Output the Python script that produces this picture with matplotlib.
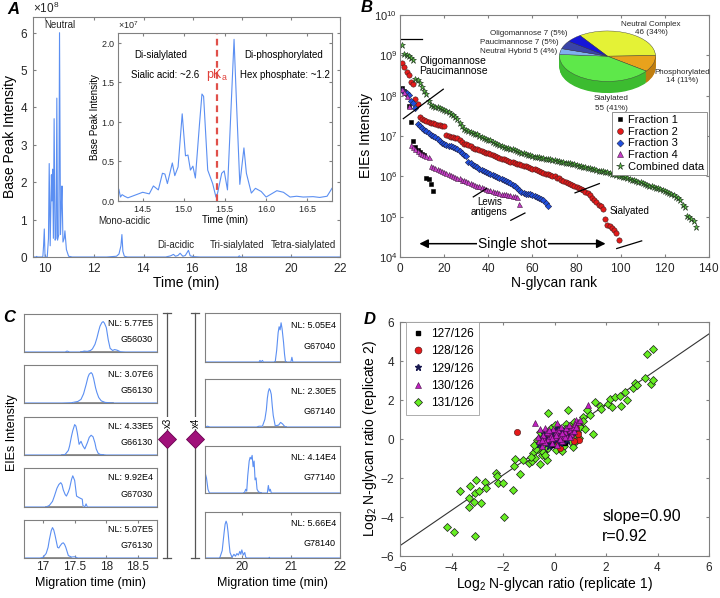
import numpy as np
import matplotlib
matplotlib.use("Agg")
import matplotlib.pyplot as plt

plt.rcParams['font.family'] = ['Liberation Sans', 'DejaVu Sans']
plt.rcParams['mathtext.default'] = 'regular'
plt.rcParams['axes.formatter.use_mathtext'] = True
plt.rcParams['axes.edgecolor'] = '#808080'
plt.rcParams['axes.linewidth'] = 0.8
plt.rcParams['xtick.color'] = '#808080'
plt.rcParams['ytick.color'] = '#808080'
plt.rcParams['xtick.labelcolor'] = '#262626'
plt.rcParams['ytick.labelcolor'] = '#262626'
plt.rcParams['xtick.direction'] = 'in'
plt.rcParams['ytick.direction'] = 'in'
plt.rcParams['xtick.major.size'] = 2.5
plt.rcParams['ytick.major.size'] = 2.5

W, H = 720, 598
TRACE = '#5b8ff2'

# ---------------- panel A: base peak electropherogram (x1e8)
a_time = [9.5, 9.62, 9.65, 9.68, 9.9, 9.93, 9.96, 9.99, 10.08, 10.13, 10.16, 10.2,
          10.25, 10.27, 10.3, 10.33, 10.36, 10.4, 10.44, 10.47, 10.5, 10.55, 10.58,
          10.62, 10.66, 10.68, 10.72, 10.77, 10.8, 10.86, 10.95, 11.1, 12.5, 12.9,
          13.0, 13.08, 13.12, 13.16, 13.22, 13.35, 14.9, 15.1, 15.22, 15.3, 15.4,
          15.49, 15.6, 15.7, 15.83, 15.9, 16.05, 16.3, 17.85, 17.9, 17.95, 22.0]
a_int = [0.0, 0.0, 0.015, 0.0, 0.0, 0.3, 0.75, 0.0, 0.0, 0.5, 2.5, 0.3,
         2.2, 1.5, 2.35, 0.5, 3.7, 0.45, 0.5, 4.25, 0.45, 0.6, 6.0,
         0.6, 1.5, 1.9, 0.4, 0.5, 0.7, 0.2, 0.02, 0.0, 0.0, 0.02,
         0.08, 0.3, 0.6, 0.15, 0.02, 0.0, 0.0, 0.03, 0.07, 0.02, 0.04,
         0.1, 0.02, 0.04, 0.18, 0.03, 0.01, 0.0, 0.0, 0.03, 0.0, 0.0]
a_labels = ['Neutral', 'Mono-acidic', 'Di-acidic', 'Tri-sialylated', 'Tetra-sialylated']
a_label_x = [10.6, 13.2, 15.3, 17.8, 20.5]
a_label_y = [6.2, 0.95, 0.32, 0.32, 0.32]

# inset (x1e7)
in_time = [14.19, 14.21, 14.23, 14.25, 14.28, 14.32, 14.5, 14.58, 14.63, 14.69, 14.74,
           14.77, 14.8, 14.86, 14.89, 14.93, 14.98, 15.02, 15.05, 15.08, 15.11, 15.14,
           15.19, 15.22, 15.24, 15.29, 15.35, 15.39, 15.41, 15.46, 15.49, 15.53, 15.61,
           15.64, 15.68, 15.73, 15.76, 15.82, 15.87, 15.94, 16.0, 16.13, 16.21, 16.29,
           16.37, 16.45, 16.57, 16.65, 16.74, 16.8]
in_int = [0.08, 0.15, 0.05, 0.08, 0.06, 0.04, 0.11, 0.09, 0.19, 0.14, 0.35,
          0.34, 0.22, 0.48, 0.32, 0.43, 1.1, 0.57, 0.58, 0.39, 0.44, 0.29,
          0.97, 1.35, 1.32, 0.39, 0.22, 0.05, 0.1, 0.35, 0.38, 0.14, 2.04,
          1.23, 0.21, 0.67, 0.35, 0.1, 0.16, 0.12, 0.05, 0.13, 0.11, 0.05,
          0.06, 0.05, 0.055, 0.045, 0.06, 0.16]
pka_time = 15.4

# ---------------- panel B: rank plot (log10 EIE intensity, one value per rank)
f1_log = [8.18, 8.12, 8.05, 7.75, 7.35, 6.88, 6.72, 6.65, 6.60, 6.56, 6.52, 5.97, 5.93, 5.82, 5.64]
f2_log = [8.80, 8.72, 8.59, 8.51, 8.34, 8.30, 7.92, 7.80,
          7.46, 7.42, 7.39, 7.37, 7.35, 7.33, 7.31, 7.29, 7.28, 7.27, 7.25, 7.24,
          7.02, 7.00, 6.98, 6.97, 6.96, 6.94, 6.91, 6.86, 6.81, 6.79,
          6.77, 6.74, 6.71, 6.69, 6.67, 6.65, 6.63, 6.61, 6.59, 6.57,
          6.55, 6.52, 6.50, 6.48, 6.46, 6.44, 6.42, 6.40, 6.38, 6.36,
          6.35, 6.33, 6.31, 6.30, 6.28, 6.26, 6.25, 6.23, 6.21, 6.19,
          6.17, 6.15, 6.13, 6.11, 6.09, 6.07, 6.05, 6.03, 6.02, 6.00,
          5.97, 5.95, 5.92, 5.89, 5.87, 5.84, 5.81, 5.78, 5.76, 5.73,
          5.71, 5.68, 5.66, 5.62, 5.58, 5.53, 5.46, 5.41, 5.36, 5.30,
          5.26, 5.20, 4.93, 4.80, 4.76, 4.73, 4.66, 4.60, 4.43]
f3_log = [8.14, 8.10, 8.07, 8.01, 7.87, 7.82, 7.70,
          7.30, 7.25, 7.19, 7.16, 7.12, 7.07, 7.03, 7.00, 6.98, 6.92,
          6.87, 6.82, 6.80, 6.78, 6.76, 6.74, 6.72, 6.70, 6.68, 6.63, 6.58, 6.54, 6.50,
          6.36, 6.32, 6.28, 6.25, 6.22, 6.19, 6.16, 6.13, 6.10, 6.08,
          6.05, 6.03, 6.01, 5.99, 5.96, 5.93, 5.91, 5.88, 5.86, 5.83,
          5.79, 5.75, 5.70, 5.66, 5.62, 5.58, 5.57, 5.56, 5.55, 5.53,
          5.51, 5.49, 5.46, 5.43, 5.41, 5.35, 5.27]
f4_log = [8.16, 8.10, 8.00, 7.74,
          6.78, 6.72, 6.67, 6.62, 6.58, 6.55, 6.52, 6.50, 6.48,
          6.25, 6.22, 6.20, 6.18, 6.16, 6.13, 6.11, 6.09, 6.06, 6.03,
          6.01, 5.99, 5.97, 5.95, 5.92, 5.90, 5.88, 5.86, 5.84, 5.82,
          5.79, 5.77, 5.75, 5.73, 5.71, 5.69, 5.67, 5.65, 5.63, 5.61,
          5.60, 5.58, 5.57, 5.56, 5.55, 5.54, 5.53, 5.52, 5.51, 5.50, 5.31]
comb_log = [9.26, 9.04, 9.01, 8.98, 8.93, 8.88,
            8.42, 8.38, 8.32, 8.22, 8.12, 8.05, 7.87,
            7.77, 7.75, 7.73, 7.71, 7.69, 7.67, 7.65,
            7.63, 7.60, 7.55, 7.52, 7.48, 7.42, 7.32,
            7.25, 7.18, 7.14, 7.12, 7.10, 7.08, 7.06, 7.04, 7.01, 6.98,
            6.96, 6.93, 6.91, 6.89, 6.86, 6.82, 6.80, 6.78, 6.76, 6.73,
            6.71, 6.70, 6.68, 6.67, 6.65, 6.63, 6.61, 6.59, 6.57, 6.55,
            6.53, 6.52, 6.50, 6.49, 6.48, 6.47, 6.46, 6.45, 6.44, 6.43,
            6.42, 6.41, 6.40, 6.38, 6.37, 6.36, 6.35, 6.34, 6.33, 6.32,
            6.31, 6.30, 6.28, 6.26, 6.25, 6.23, 6.22, 6.21, 6.20, 6.18,
            6.17, 6.16, 6.14, 6.13, 6.12, 6.11, 6.10, 6.08, 6.06, 6.05,
            6.03, 6.02, 6.00, 5.99, 5.98, 5.96, 5.94, 5.92, 5.90, 5.88,
            5.87, 5.85, 5.83, 5.81, 5.79, 5.77, 5.75, 5.73, 5.71, 5.70,
            5.68, 5.66, 5.63, 5.61, 5.58, 5.56, 5.53, 5.50, 5.46, 5.41,
            5.28, 5.24, 5.02, 4.98, 4.93, 4.89, 4.74]

pie_names = ['Neutral Complex', 'Phosphorylated', 'Sialylated', 'Neutral Hybrid',
             'Paucimannose', 'Oligomannose']
pie_counts = [46, 14, 55, 5, 7, 7]
pie_colors = ['#e4f236', '#e8a21c', '#5ee84a', '#7fb0ee', '#3a44a8', '#1616d8']
pie_side = ['#b8c420', '#c07e10', '#3cbc30', '#5a88c8', '#28307c', '#0e0ea0']

# ---------------- panel C: extracted electropherograms (normalised)
cl_names = ['G56030', 'G56130', 'G66130', 'G67030', 'G76130']
cl_nl = ['5.77E5', '3.07E6', '4.33E5', '9.92E4', '5.07E5']
cl_t = [[16.7, 17.35, 17.38, 17.42, 17.6, 17.65, 17.7, 17.75, 17.78, 17.82, 17.85, 17.88, 17.9,
         17.93, 17.95, 17.97, 18.0, 18.03, 18.06, 18.1, 18.13, 18.17, 18.22, 18.3, 18.8],
        [16.7, 17.3, 17.45, 17.55, 17.6, 17.64, 17.68, 17.71, 17.73, 17.76, 17.78, 17.8, 17.83,
         17.85, 17.88, 17.92, 17.98, 18.1, 18.8],
        [16.7, 17.3, 17.35, 17.4, 17.42, 17.45, 17.47, 17.5, 17.52, 17.54, 17.57, 17.6, 17.63,
         17.66, 17.7, 17.73, 17.76, 17.79, 17.82, 17.84, 17.87, 17.9, 18.0, 18.8],
        [16.7, 17.05, 17.1, 17.15, 17.18, 17.22, 17.25, 17.28, 17.3, 17.32, 17.35, 17.37, 17.4,
         17.42, 17.45, 17.47, 17.5, 17.53, 17.57, 17.62, 17.63, 17.66, 17.68, 17.7, 18.8],
        [16.7, 16.95, 17.0, 17.05, 17.08, 17.1, 17.13, 17.15, 17.17, 17.19, 17.23, 17.25, 17.27,
         17.3, 17.32, 17.34, 17.36, 17.4, 17.45, 17.5, 17.55, 18.8]]
cl_v = [[0, 0, 0.03, 0, 0, 0.03, 0.02, 0.05, 0.1, 0.25, 0.45, 0.7, 0.85,
         0.97, 1.0, 0.95, 0.8, 0.4, 0.12, 0.05, 0.08, 0.06, 0.01, 0, 0],
        [0, 0, 0.01, 0.05, 0.12, 0.3, 0.6, 0.85, 0.95, 1.0, 0.95, 0.8, 0.5,
         0.35, 0.18, 0.07, 0.02, 0, 0],
        [0, 0, 0.02, 0.15, 0.3, 0.62, 0.8, 1.0, 0.95, 0.75, 0.35, 0.45, 0.3,
         0.2, 0.4, 0.58, 0.65, 0.6, 0.4, 0.2, 0.06, 0.02, 0, 0],
        [0, 0, 0.05, 0.18, 0.35, 0.6, 0.72, 0.78, 0.72, 0.55, 0.4, 0.35, 0.48,
         0.6, 0.88, 1.0, 0.85, 0.35, 0.3, 0.25, 0.05, 0, 0.1, 0, 0],
        [0, 0, 0.02, 0.15, 0.35, 0.6, 0.9, 1.0, 0.92, 0.75, 0.35, 0.33, 0.4,
         0.48, 0.5, 0.45, 0.35, 0.08, 0.03, 0.04, 0, 0]]
cl_base = [(17.6, 18.2), (17.5, 18.1), (17.3, 17.95), (17.05, 17.62), (17.0, 17.45)]

cr_names = ['G67040', 'G67140', 'G77140', 'G78140']
cr_nl = ['5.05E4', '2.30E5', '4.14E4', '5.66E4']
cr_t = [[19.25, 20.35, 20.37, 20.39, 20.42, 20.44, 20.68, 20.71, 20.74, 20.76, 20.78, 20.8, 20.82,
         20.85, 20.87, 20.89, 21.0, 21.02, 21.04, 22.0],
        [19.25, 19.3, 19.35, 20.3, 20.35, 20.42, 20.47, 20.5, 20.52, 20.54, 20.56, 20.58, 20.6,
         20.62, 20.64, 20.68, 20.75, 20.79, 20.83, 20.87, 20.9, 22.0],
        [19.25, 19.28, 19.31, 19.34, 20.05, 20.08, 20.1, 20.12, 20.15, 20.17, 20.19, 20.21, 20.23,
         20.25, 20.27, 20.29, 20.31, 20.34, 20.4, 20.52, 20.54, 20.56, 20.58, 20.6, 22.0],
        [19.25, 19.55, 19.6, 19.62, 19.64, 19.66, 19.68, 19.7, 19.72, 19.74, 19.76, 19.8, 19.84,
         19.87, 19.9, 19.93, 19.96, 19.98, 20.0, 20.03, 20.06, 20.08, 20.1, 20.55, 20.56, 20.57,
         22.0]]
cr_v = [[0, 0, 0.04, 0, 0.04, 0, 0, 0.3, 0.75, 0.9, 0.82, 1.0, 0.85,
         0.5, 0.2, 0, 0, 0.12, 0, 0],
        [0, 0.02, 0, 0, 0.02, 0.02, 0.2, 0.45, 0.75, 0.92, 1.0, 0.95, 0.85,
         0.55, 0.3, 0.03, 0.05, 0.12, 0.08, 0.02, 0, 0],
        [0.55, 0.4, 0.1, 0, 0, 0.1, 0.05, 0.45, 0.85, 0.95, 0.9, 1.0, 0.7,
         0.85, 0.35, 0.4, 0.1, 0.03, 0, 0, 0.2, 0.05, 0.1, 0, 0],
        [0, 0, 0.2, 0.45, 0.7, 0.92, 1.0, 0.92, 0.7, 0.4, 0.15, 0.02, 0.1,
         0.05, 0.12, 0.08, 0.18, 0.1, 0.22, 0.08, 0.15, 0.02, 0, 0, 0.02, 0, 0]]
cr_base = [(20.68, 20.9), (20.45, 20.9), (20.05, 20.4), (19.55, 19.8)]

# ---------------- panel D: replicate log2 ratios
d131_x = [-4.16, -3.89, -3.67, -3.33, -3.29, -3.31, -3.13, -3.09, -3.03, -3.09, -2.92, -2.87,
          -2.70, -2.66, -2.27, -2.25, -2.18, -2.01, -1.95, -1.62, -1.57, -1.53, -1.34, -1.24,
          -0.98, -0.89, -0.82, -0.76, -0.69, -0.63, -0.56, -0.50, -0.30, -0.24, 0.54, -0.43,
          1.25, 1.58, 1.51, 1.77, 1.81, 2.09, 2.16, 2.22, 2.35, 2.54, 2.60, 2.80, 2.74, 3.06,
          3.12, 3.19, 3.52, 3.74, 3.82, 3.58, 3.84, 0.99, 0.86, 0.73, 1.12, 1.38, 0.41, 0.21,
          -0.6, -0.5, -0.4, -0.3, -0.2, -0.1, 0.0, 0.1, 0.2, 0.3, 0.4, 0.5, 0.6, 0.7, 0.8,
          0.9, 1.0, -0.7, -0.45, -0.25, 0.05, 0.35, 0.55, 0.75, -0.15, 0.15, 0.45, -0.55, 0.25,
          0.65, -0.35, 0.85, 1.1, -0.8, -0.05, 0.4, 0.6, 1.2, -0.9, 0.0, 0.3, 0.95]
d131_y = [-4.50, -4.79, -2.65, -3.05, -2.42, -3.47, -3.22, -2.76, -2.11, -4.98, -2.65, -3.30,
          -2.19, -2.53, -1.73, -1.90, -2.28, -2.28, -4.02, -2.59, -1.38, -1.05, -1.77, -1.09,
          -1.22, -1.12, -0.74, -0.99, -0.06, -0.49, -1.26, -0.83, -1.09, 1.34, 1.48, -0.66,
          1.48, 1.91, 0.25, 1.68, 1.56, 1.82, 2.07, 1.65, 2.16, 2.19, 1.68, 1.99, 2.41, 2.62,
          2.87, 2.75, 3.13, 2.84, 3.01, 4.38, 4.60, 0.79, 0.37, -0.40, 1.13, 1.22, -0.06, -0.49,
          -0.2, 0.1, -0.3, 0.2, -0.1, 0.3, -0.2, 0.1, -0.4, 0.3, 0.0, 0.4, -0.1, 0.5, 0.2,
          0.7, 0.6, -0.5, -0.65, -0.45, -0.55, -0.35, 0.15, 0.85, 0.55, 0.6, 0.75, 0.35, -0.15,
          0.3, -0.8, -0.1, 0.9, -0.3, 0.0, 0.5, 0.65, 0.5, -0.9, 0.7, -0.6, 0.05]
d130_x = [-0.75, -0.55, -0.35, 0.1, 1.3, 0.85, -0.2, 0.0, 0.2, 0.4, 0.6, -0.4, -0.1, 0.3,
          0.5, 0.7, -0.6, 0.15, -0.25, 0.05, 0.8, 0.9, -0.5, 0.35, 1.0, -0.15,
          -0.45, -0.3, -0.05, 0.25, 0.45, 0.65, -0.65, -0.35, 0.1, 0.55, 0.75, -0.1, 0.2, 0.4,
          -0.2, 0.05, 0.3, 0.6, -0.5, 0.85]
d130_y = [0.8, 0.5, 0.55, 0.8, 1.75, 0.95, 0.3, 0.1, 0.2, 0.35, 0.45, 0.0, -0.2, -0.1,
          0.1, 0.6, -0.1, 0.45, 0.0, 0.35, 0.75, 0.85, -0.35, 0.15, 0.95, 0.15,
          0.2, 0.35, 0.5, 0.6, 0.55, 0.25, 0.1, -0.15, -0.3, 0.7, 0.4, 0.05, 0.0, 0.1,
          0.45, 0.2, 0.3, 0.1, -0.05, 0.6]
d128_x = [-1.45, 0.2, 0.85, 0.95, 0.5, 0.1, -0.2, 0.7, 0.3, 0.9, 0.6, 0.75]
d128_y = [0.38, -0.45, 0.55, -0.05, 0.2, -0.1, 0.05, 0.3, 0.05, 0.25, 0.55, -0.1]
d129_x = [-0.5, -0.3, -0.1, 0.1, 0.3, 0.5, 0.2, -0.2, 0.0, 0.4, -0.4, 0.6,
          -0.6, -0.15, 0.05, 0.25, 0.45, 0.7, -0.35, 0.15]
d129_y = [0.05, -0.2, 0.1, 0.25, 0.4, -0.05, -0.2, -0.35, 0.4, 0.2, 0.25, 0.2,
          -0.25, 0.35, -0.05, 0.15, 0.5, 0.35, 0.05, 0.55]
d127_x = [-0.3, 0.0, 0.2, 0.4, -0.1, 0.1, 0.3, -0.2, 0.5, -0.45]
d127_y = [0.0, -0.1, 0.05, -0.2, -0.3, 0.15, 0.25, 0.2, 0.35, -0.15]
fit_slope, fit_icpt = 0.905, -0.04


def px_axes(fig, l, t, r, b, **kw):
    return fig.add_axes([l / W, 1 - b / H, (r - l) / W, (b - t) / H], **kw)


fig = plt.figure(figsize=(7.2, 5.98), dpi=100)

# ================= A
ax = px_axes(fig, 33, 17, 340, 257)
ax.plot(a_time, np.array(a_int) * 1e8, color=TRACE, lw=0.8)
ax.set_xlim(9.5, 22)
ax.set_ylim(0, 6.42e8)
ax.set_xticks([10, 12, 14, 16, 18, 20, 22])
ax.set_yticks(np.arange(0, 7) * 1e8)
ax.tick_params(labelsize=8.5, top=True, right=True)
ax.yaxis.get_offset_text().set_fontsize(8.5)
ax.set_xlabel('Time (min)', fontsize=10, labelpad=1)
ax.set_ylabel('Base Peak Intensity', fontsize=10, labelpad=2)
for lab, x, y in zip(a_labels, a_label_x, a_label_y):
    ax.text(x, y * 1e8, lab, fontsize=7, ha='center', va='center', color='#262626')

axi = px_axes(fig, 118, 33, 332, 201)
axi.plot(in_time, np.array(in_int) * 1e7, color=TRACE, lw=0.8)
axi.axvline(pka_time, color='#e0504a', lw=1.6, ls=(0, (3, 2)))
axi.set_xlim(14.2, 16.8)
axi.set_ylim(0, 2.12e7)
axi.set_xticks([14.5, 15, 15.5, 16, 16.5])
axi.set_yticks(np.array([0, 0.5, 1, 1.5, 2]) * 1e7)
axi.tick_params(labelsize=6.5, top=True, right=True, pad=2)
axi.yaxis.get_offset_text().set_fontsize(6.5)
axi.set_xlabel('Time (min)', fontsize=7, labelpad=1)
axi.set_ylabel('Base Peak Intensity', fontsize=7, labelpad=1)
axi.text(14.72, 1.84e7, 'Di-sialylated', fontsize=7, ha='center', va='center')
axi.text(14.77, 1.59e7, 'Sialic acid: ~2.6', fontsize=7, ha='center', va='center')
axi.text(16.21, 1.84e7, 'Di-phosphorylated', fontsize=7, ha='center', va='center')
axi.text(16.23, 1.59e7, 'Hex phosphate: ~1.2', fontsize=7, ha='center', va='center')
axi.text(15.4, 1.59e7, 'pK$_a$', fontsize=9, ha='center', va='center', color='#e0403a')

# ================= B
bx = px_axes(fig, 400, 15, 709, 257)
series = [(f1_log, 's', 'k', 'k', 2.2, 'Fraction 1'),
          (f2_log, 'o', '#e41a1a', '#402020', 3.8, 'Fraction 2'),
          (f3_log, 'D', '#1f4fe0', '#202040', 3.2, 'Fraction 3'),
          (f4_log, '^', '#c83cc8', '#402040', 3.6, 'Fraction 4'),
          (comb_log, '*', '#58c040', '#1a2a1a', 5.0, 'Combined data')]
for vals, mk, fc, ec, ms, lab in series:
    r = np.arange(1, len(vals) + 1)
    bx.semilogy(r, 10 ** np.array(vals), ls='none', marker=mk, mfc=fc, mec=ec,
                mew=0.4, ms=ms, label=lab)
bx.set_xlim(0, 140)
bx.set_ylim(1e4, 1e10)
bx.set_xticks(range(0, 141, 20))
bx.yaxis.set_minor_locator(matplotlib.ticker.NullLocator())
bx.tick_params(axis='x', labelsize=8.5, top=True)
bx.tick_params(axis='y', labelsize=8, right=True, pad=2)
bx.set_xlabel('N-glycan rank', fontsize=10, labelpad=1)
bx.set_ylabel('EIEs Intensity', fontsize=10, labelpad=1)
leg = bx.legend(loc='upper right', bbox_to_anchor=(0.994, 0.60), borderaxespad=0,
                fontsize=8, labelspacing=0.15, handletextpad=0.3, handlelength=0.8,
                borderpad=0.3, fancybox=False, edgecolor='#808080', framealpha=1,
                markerscale=1.1)
leg.get_frame().set_linewidth(0.6)
for (x0, x1, y0, y1) in [(0, 9.8, 9.4, 9.4), (1.5, 19.6, 7.43, 8.16), (33.2, 39.3, 5.49, 5.70),
                         (50.2, 56.6, 4.91, 5.09), (79.3, 90.3, 5.59, 5.82),
                         (98.2, 109.5, 4.21, 4.40)]:
    bx.plot([x0, x1], [10 ** y0, 10 ** y1], color='k', lw=0.9)
bx.annotate('', xy=(7.5, 10 ** 4.33), xytext=(94.4, 10 ** 4.33),
            arrowprops=dict(arrowstyle='<|-|>', color='k', lw=1.1, mutation_scale=13))
bx.text(51, 10 ** 4.33, 'Single shot', fontsize=10, ha='center', va='center',
        bbox=dict(fc='white', ec='none', pad=1))
bx.text(24, 10 ** 8.87, 'Oligomannose', fontsize=7.5, ha='center', va='center')
bx.text(24, 10 ** 8.62, 'Paucimannose', fontsize=7.5, ha='center', va='center')
bx.text(40.5, 10 ** 5.37, 'Lewis', fontsize=7, ha='center', va='center')
bx.text(40.5, 10 ** 5.12, 'antigens', fontsize=7, ha='center', va='center')
bx.text(104, 10 ** 5.13, 'Sialyated', fontsize=7, ha='center', va='center')

# pie (flattened, with a side band)
px = px_axes(fig, 559, 30.7, 656, 93.3)
for d in np.linspace(0.46, 0.02, 16):
    px.pie(pie_counts, colors=pie_side, startangle=125, counterclock=False,
           center=(0, -d), wedgeprops=dict(linewidth=0))
px.pie(pie_counts, colors=pie_colors, startangle=125, counterclock=False,
       wedgeprops=dict(linewidth=0.3, edgecolor='#404040'))
px.set_aspect('auto')
px.set_xlim(-1.01, 1.01)
px.set_ylim(-1.47, 1.01)
px.axis('off')

# ================= C
def chrom_axes(l, r, t, b, t_data, v_data, base, name, nl, xlim, bottom, xt):
    cax = px_axes(fig, l, t, r, b)
    cax.plot(base, [0, 0], color='#808080', lw=1.2, zorder=1)
    cax.plot(t_data, v_data, color=TRACE, lw=0.8, zorder=2)
    cax.set_xlim(*xlim)
    cax.set_ylim(0, 1.25)
    cax.set_yticks([])
    if bottom:
        cax.set_xticks(xt)
        cax.set_xticklabels([('%g' % v) for v in xt])
        cax.tick_params(axis='x', labelsize=8.5, top=True, pad=2)
        cax.set_xlabel('Migration time (min)', fontsize=9, labelpad=3)
    else:
        cax.set_xticks([])
    cax.text(0.97, 0.75, 'NL: ' + nl, transform=cax.transAxes, fontsize=6.5,
             ha='right', va='center')
    cax.text(0.97, 0.32, name, transform=cax.transAxes, fontsize=6.5,
             ha='right', va='center')
    return cax


left_rows = [(314, 352), (365, 403), (417, 455), (468, 507), (520, 558)]
for i, (t, b) in enumerate(left_rows):
    chrom_axes(24, 157, t, b, cl_t[i], cl_v[i], cl_base[i], cl_names[i], cl_nl[i],
               (16.7, 18.8), i == len(left_rows) - 1, [17, 17.5, 18, 18.5])
right_rows = [(313, 362), (379, 427), (446, 493), (512, 558)]
for i, (t, b) in enumerate(right_rows):
    chrom_axes(205, 340, t, b, cr_t[i], cr_v[i], cr_base[i], cr_names[i], cr_nl[i],
               (19.25, 22), i == len(right_rows) - 1, [20, 21, 22])

# ================= D
dx = px_axes(fig, 400, 322, 709, 556)
xs_fit = np.array([-6, 6])
dx.plot(xs_fit, fit_slope * xs_fit + fit_icpt, color='#333333', lw=0.8, zorder=1)
dx.plot(d131_x, d131_y, ls='none', marker='D', mfc='#66ee22', mec='#1a1a1a', mew=0.5, ms=3.8,
        zorder=2)
dx.plot(d127_x, d127_y, ls='none', marker='s', mfc='k', mec='k', ms=2.5, zorder=3)
dx.plot(d128_x, d128_y, ls='none', marker='o', mfc='#e41a1a', mec='#401010', mew=0.4, ms=4.5,
        zorder=3)
dx.plot(d129_x, d129_y, ls='none', marker='*', mfc='#1a1a50', mec='#1a1a50', ms=4.5, zorder=3)
dx.plot(d130_x, d130_y, ls='none', marker='^', mfc='#c020c0', mec='#401040', mew=0.4, ms=4.2,
        zorder=3)
hs = [plt.Line2D([], [], ls='none', marker='s', mfc='k', mec='k', ms=3),
      plt.Line2D([], [], ls='none', marker='o', mfc='#e41a1a', mec='#401010', mew=0.4, ms=5),
      plt.Line2D([], [], ls='none', marker='*', mfc='#1a1a50', mec='#1a1a50', ms=5),
      plt.Line2D([], [], ls='none', marker='^', mfc='#c020c0', mec='#401040', mew=0.4, ms=5),
      plt.Line2D([], [], ls='none', marker='D', mfc='#66ee22', mec='#1a1a1a', mew=0.5, ms=4)]
legd = dx.legend(hs, ['127/126', '128/126', '129/126', '130/126', '131/126'], loc='upper left',
                 bbox_to_anchor=(0.019, 1.0), borderaxespad=0, fontsize=8.5, labelspacing=0.45,
                 handletextpad=0.6, handlelength=1.0, borderpad=0.5, fancybox=False,
                 edgecolor='#a0a0a0', framealpha=1)
legd.get_frame().set_linewidth(0.6)
dx.set_xlim(-6, 6)
dx.set_ylim(-6, 6)
dx.set_xticks(range(-6, 7, 2))
dx.set_yticks(range(-6, 7, 2))
dx.tick_params(labelsize=8.5, top=True, right=True)
dx.set_xlabel('Log$_2$ N-glycan ratio (replicate 1)', fontsize=10, labelpad=1)
dx.set_ylabel('Log$_2$ N-glycan ratio (replicate 2)', fontsize=10, labelpad=1)
dx.text(0.654, 0.17, 'slope=0.90', transform=dx.transAxes, fontsize=11.5, va='center')
dx.text(0.654, 0.083, 'r=0.92', transform=dx.transAxes, fontsize=11.5, va='center')

# ================= overlay: panel letters, brackets, pie labels
ov = fig.add_axes([0, 0, 1, 1])
ov.set_xlim(0, W)
ov.set_ylim(H, 0)
ov.axis('off')
for lab, x, y in [('A', 7, 9), ('B', 361, 8), ('C', 3, 318), ('D', 364, 319)]:
    ov.text(x, y, lab, fontsize=12, fontweight='bold', fontstyle='italic', va='center')
for bx_x, tag in [(167, 'x3'), (195, 'x4')]:
    ov.plot([bx_x, bx_x], [313, 558], color='#555555', lw=0.9)
    ov.plot([bx_x - 4, bx_x + 4], [313, 313], color='#555555', lw=0.9)
    ov.plot([bx_x - 4, bx_x + 4], [558, 558], color='#555555', lw=0.9)
    ov.plot(bx_x, 439, marker='D', ms=9, mfc='#a0107a', mec='#6a0050', mew=0.6)
    ov.text(bx_x + 1, 423, tag, fontsize=7, rotation=90, ha='center', va='center',
            bbox=dict(fc='white', ec='none', pad=0.5))
ov.text(12, 433, 'EIEs Intensity', fontsize=9, rotation=90, ha='center', va='center')
pie_txt = [('Oligomannose 7 (5%)', 568, 33.5, 'right'),
           ('Paucimannose 7 (5%)', 559, 42.5, 'right'),
           ('Neutral Hybrid 5 (4%)', 557, 51.5, 'right'),
           ('Neutral Complex', 651, 24, 'center'), ('46 (34%)', 651, 32.5, 'center'),
           ('Phosphorylated', 682, 72.5, 'center'), ('14 (11%)', 682, 81, 'center'),
           ('Sialylated', 611, 99, 'center'), ('55 (41%)', 611, 108, 'center')]
for s, x, y, ha in pie_txt:
    ov.text(x, y, s, fontsize=5.8, ha=ha, va='center', color='#262626')

fig.savefig('out.png', dpi=100)
